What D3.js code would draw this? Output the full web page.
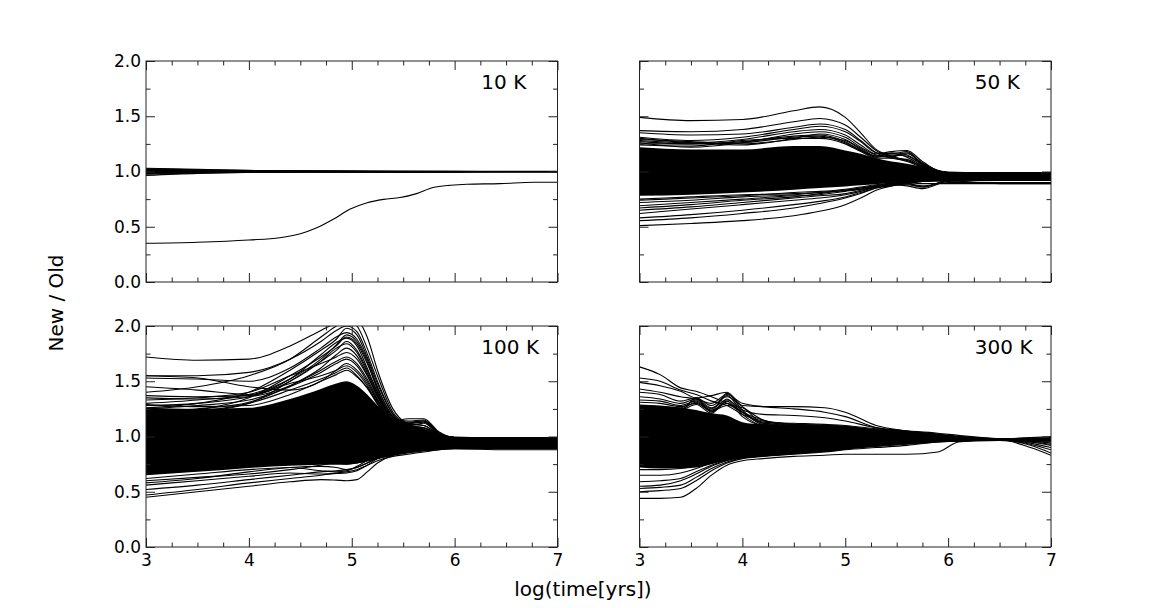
<!DOCTYPE html>
<html>
<head>
<meta charset="utf-8">
<script src="https://cdn.jsdelivr.net/npm/d3@7"></script>
<style>
  body { margin: 0; background: #fff; }
  svg { display: block; }
  text { font-family: "DejaVu Sans", sans-serif; }
</style>
</head>
<body>
<div id="chart"></div>
<script>
// ---- data ----
var xTicks = [3, 4, 5, 6, 7];
var yTicks = [0, 0.5, 1, 1.5, 2];
var panelLabels = ["10 K", "50 K", "100 K", "300 K"];

// 10 K
var x10 = [3, 3.5, 4, 4.5, 5, 5.5, 6, 6.5, 7];
var lines10 = [
  [1.030, 1.020, 1.010, 1.005, 1.003, 1.002, 1.001, 1.001, 1.001],
  [1.025, 1.016, 1.008, 1.004, 1.002, 1.001, 1.001, 1.000, 1.000],
  [1.020, 1.013, 1.007, 1.003, 1.002, 1.001, 1.000, 1.000, 1.000],
  [1.016, 1.010, 1.005, 1.003, 1.001, 1.000, 1.000, 1.000, 1.000],
  [1.012, 1.008, 1.004, 1.002, 1.001, 1.000, 1.000, 1.000, 1.000],
  [1.008, 1.005, 1.003, 1.001, 1.000, 1.000, 1.000, 1.000, 1.000],
  [1.004, 1.003, 1.002, 1.001, 1.000, 0.999, 1.000, 1.000, 1.000],
  [1.000, 1.000, 1.000, 1.000, 0.999, 0.998, 0.999, 1.000, 1.000],
  [0.996, 0.997, 0.998, 0.999, 0.998, 0.997, 0.998, 0.999, 0.999],
  [0.992, 0.994, 0.996, 0.998, 0.998, 0.996, 0.998, 0.999, 0.999],
  [0.988, 0.992, 0.995, 0.997, 0.997, 0.996, 0.997, 0.998, 0.998],
  [0.982, 0.989, 0.993, 0.996, 0.997, 0.996, 0.997, 0.998, 0.998],
  [0.975, 0.986, 0.992, 0.995, 0.996, 0.995, 0.997, 0.998, 0.998],
  [0.965, 0.983, 0.991, 0.995, 0.996, 0.995, 0.997, 0.998, 0.998]
];
var x10low = [3, 3.5, 4, 4.3, 4.5, 4.66, 4.82, 4.98, 5.15, 5.31, 5.47, 5.63, 5.79, 5.96, 6.12, 6.44, 6.77, 7];
var low10 = [0.350, 0.360, 0.380, 0.400, 0.436, 0.490, 0.567, 0.658, 0.718, 0.748, 0.764, 0.800, 0.855, 0.876, 0.885, 0.890, 0.903, 0.903];

// 50 K
var x50 = [3, 3.5, 4, 4.5, 4.75, 5, 5.15, 5.3, 5.45, 5.6, 5.75, 6, 6.5, 7];
var core50Lo = [0.78, 0.79, 0.81, 0.835, 0.85, 0.865, 0.875, 0.885, 0.895, 0.905, 0.915, 0.925, 0.93, 0.93];
var core50Hi = [1.22, 1.20, 1.20, 1.23, 1.23, 1.19, 1.16, 1.12, 1.09, 1.07, 1.04, 1.00, 0.99, 0.99];
var lines50 = [
  [1.49, 1.46, 1.47, 1.55, 1.585, 1.49, 1.35, 1.20, 1.14, 1.10, 1.05, 0.99, 0.98, 0.98],
  [1.37, 1.36, 1.38, 1.45, 1.48, 1.42, 1.31, 1.19, 1.13, 1.09, 1.04, 0.99, 0.98, 0.98],
  [1.35, 1.33, 1.34, 1.40, 1.43, 1.38, 1.28, 1.17, 1.12, 1.10, 1.04, 0.98, 0.975, 0.975],
  [1.31, 1.28, 1.31, 1.38, 1.41, 1.36, 1.27, 1.17, 1.16, 1.18, 1.07, 0.98, 0.97, 0.97],
  [1.28, 1.26, 1.29, 1.36, 1.38, 1.33, 1.24, 1.16, 1.18, 1.19, 1.09, 0.97, 0.97, 0.97],
  [1.26, 1.22, 1.26, 1.34, 1.36, 1.31, 1.22, 1.15, 1.13, 1.17, 1.06, 0.98, 0.98, 0.98],
  [1.30, 1.26, 1.24, 1.30, 1.34, 1.29, 1.21, 1.14, 1.16, 1.13, 1.05, 0.99, 0.985, 0.985],
  [1.25, 1.25, 1.27, 1.32, 1.33, 1.27, 1.19, 1.13, 1.15, 1.14, 1.06, 0.985, 0.98, 0.98],
  [1.24, 1.23, 1.28, 1.30, 1.30, 1.25, 1.18, 1.12, 1.12, 1.11, 1.04, 0.99, 0.99, 0.99],
  [1.27, 1.25, 1.26, 1.31, 1.32, 1.26, 1.19, 1.14, 1.17, 1.15, 1.07, 0.99, 0.985, 0.985],
  [1.29, 1.27, 1.25, 1.29, 1.31, 1.28, 1.20, 1.13, 1.14, 1.16, 1.08, 0.98, 0.98, 0.98],
  [0.51, 0.53, 0.555, 0.60, 0.64, 0.70, 0.76, 0.83, 0.87, 0.89, 0.91, 0.93, 0.94, 0.94],
  [0.555, 0.58, 0.62, 0.67, 0.71, 0.76, 0.80, 0.85, 0.88, 0.90, 0.91, 0.93, 0.935, 0.935],
  [0.58, 0.61, 0.65, 0.70, 0.73, 0.77, 0.81, 0.85, 0.87, 0.88, 0.86, 0.92, 0.93, 0.93],
  [0.62, 0.66, 0.70, 0.74, 0.76, 0.79, 0.82, 0.86, 0.88, 0.87, 0.845, 0.91, 0.92, 0.92],
  [0.65, 0.68, 0.72, 0.76, 0.78, 0.80, 0.83, 0.86, 0.88, 0.89, 0.87, 0.90, 0.90, 0.90],
  [0.67, 0.70, 0.74, 0.77, 0.80, 0.83, 0.85, 0.87, 0.885, 0.90, 0.915, 0.925, 0.93, 0.93],
  [0.69, 0.72, 0.75, 0.78, 0.79, 0.82, 0.84, 0.87, 0.89, 0.90, 0.89, 0.89, 0.89, 0.89],
  [0.72, 0.74, 0.77, 0.79, 0.81, 0.83, 0.85, 0.87, 0.89, 0.90, 0.91, 0.915, 0.89, 0.89],
  [0.74, 0.76, 0.78, 0.81, 0.82, 0.84, 0.86, 0.88, 0.895, 0.905, 0.915, 0.92, 0.925, 0.925],
  [0.75, 0.77, 0.79, 0.80, 0.81, 0.83, 0.84, 0.86, 0.88, 0.89, 0.86, 0.92, 0.93, 0.93]
];

// 100 K
var x100 = [3, 3.5, 4, 4.4, 4.7, 4.85, 4.95, 5.05, 5.15, 5.25, 5.4, 5.55, 5.7, 5.85, 6, 6.5, 7];
var core100Lo = [0.65, 0.68, 0.715, 0.735, 0.745, 0.745, 0.745, 0.755, 0.775, 0.795, 0.825, 0.855, 0.875, 0.89, 0.90, 0.90, 0.90];
var core100Hi = [1.26, 1.25, 1.26, 1.34, 1.43, 1.48, 1.50, 1.46, 1.38, 1.28, 1.16, 1.09, 1.05, 1.02, 1.00, 0.99, 0.99];
var lines100 = [
  [1.72, 1.69, 1.70, 1.82, 1.96, 2.03, 2.08, 2.06, 1.90, 1.60, 1.25, 1.10, 1.05, 1.01, 0.99, 0.98, 0.98],
  [1.55, 1.55, 1.58, 1.70, 1.86, 1.96, 2.00, 1.95, 1.75, 1.50, 1.20, 1.10, 1.05, 1.01, 0.99, 0.98, 0.98],
  [1.53, 1.52, 1.50, 1.62, 1.80, 1.90, 1.94, 1.88, 1.70, 1.45, 1.18, 1.12, 1.13, 1.02, 0.99, 0.99, 0.99],
  [1.45, 1.42, 1.38, 1.52, 1.74, 1.85, 1.89, 1.82, 1.62, 1.40, 1.16, 1.14, 1.15, 1.03, 0.99, 0.985, 0.985],
  [1.37, 1.36, 1.37, 1.50, 1.68, 1.80, 1.84, 1.76, 1.58, 1.38, 1.15, 1.12, 1.10, 1.02, 0.98, 0.98, 0.98],
  [1.33, 1.35, 1.40, 1.55, 1.66, 1.72, 1.76, 1.70, 1.55, 1.36, 1.14, 1.16, 1.16, 1.04, 0.99, 0.98, 0.98],
  [1.25, 1.28, 1.33, 1.45, 1.58, 1.66, 1.70, 1.64, 1.50, 1.33, 1.13, 1.10, 1.12, 1.02, 0.98, 0.975, 0.975],
  [1.28, 1.30, 1.36, 1.48, 1.55, 1.60, 1.64, 1.58, 1.46, 1.30, 1.12, 1.08, 1.07, 1.01, 0.99, 0.99, 0.99],
  [1.24, 1.24, 1.30, 1.42, 1.52, 1.58, 1.62, 1.55, 1.44, 1.29, 1.12, 1.09, 1.06, 1.00, 0.98, 0.98, 0.98],
  [1.55, 1.53, 1.45, 1.42, 1.50, 1.60, 1.66, 1.60, 1.48, 1.32, 1.13, 1.10, 1.08, 1.02, 0.99, 0.98, 0.98],
  [1.26, 1.30, 1.40, 1.60, 1.78, 1.88, 1.98, 1.92, 1.72, 1.48, 1.20, 1.10, 1.05, 1.01, 0.99, 0.98, 0.98],
  [1.20, 1.24, 1.35, 1.55, 1.72, 1.82, 1.90, 1.84, 1.66, 1.44, 1.18, 1.09, 1.04, 1.00, 0.98, 0.98, 0.98],
  [1.22, 1.25, 1.31, 1.46, 1.62, 1.74, 1.80, 1.73, 1.56, 1.37, 1.15, 1.11, 1.10, 1.02, 0.98, 0.98, 0.98],
  [1.18, 1.22, 1.30, 1.50, 1.68, 1.78, 1.86, 1.78, 1.60, 1.40, 1.17, 1.10, 1.06, 1.01, 0.98, 0.98, 0.98],
  [1.30, 1.33, 1.38, 1.52, 1.70, 1.83, 1.92, 1.86, 1.68, 1.42, 1.17, 1.13, 1.14, 1.03, 0.99, 0.99, 0.99],
  [1.35, 1.34, 1.36, 1.46, 1.60, 1.68, 1.72, 1.66, 1.52, 1.34, 1.14, 1.12, 1.14, 1.03, 0.99, 0.985, 0.985],
  [1.40, 1.45, 1.55, 1.70, 1.90, 2.00, 2.05, 2.00, 1.80, 1.55, 1.22, 1.11, 1.06, 1.01, 0.99, 0.98, 0.98],
  [1.29, 1.27, 1.28, 1.38, 1.50, 1.56, 1.60, 1.54, 1.44, 1.31, 1.13, 1.09, 1.08, 1.01, 0.98, 0.98, 0.98],
  [0.45, 0.50, 0.55, 0.59, 0.61, 0.605, 0.60, 0.61, 0.68, 0.76, 0.83, 0.86, 0.88, 0.89, 0.90, 0.90, 0.90],
  [0.47, 0.52, 0.58, 0.62, 0.65, 0.67, 0.68, 0.70, 0.74, 0.78, 0.82, 0.84, 0.86, 0.88, 0.89, 0.89, 0.89],
  [0.52, 0.56, 0.61, 0.65, 0.68, 0.69, 0.70, 0.72, 0.76, 0.80, 0.83, 0.85, 0.87, 0.88, 0.89, 0.88, 0.88],
  [0.56, 0.60, 0.64, 0.67, 0.66, 0.665, 0.67, 0.69, 0.74, 0.80, 0.84, 0.86, 0.875, 0.89, 0.90, 0.90, 0.90],
  [0.58, 0.62, 0.68, 0.72, 0.73, 0.72, 0.70, 0.72, 0.76, 0.82, 0.85, 0.87, 0.88, 0.89, 0.90, 0.91, 0.91],
  [0.60, 0.63, 0.66, 0.70, 0.74, 0.76, 0.75, 0.76, 0.78, 0.81, 0.84, 0.86, 0.88, 0.89, 0.90, 0.90, 0.90],
  [0.62, 0.66, 0.70, 0.72, 0.69, 0.68, 0.69, 0.73, 0.78, 0.82, 0.85, 0.87, 0.88, 0.89, 0.90, 0.90, 0.90]
];

// 300 K
var x300 = [3, 3.2, 3.4, 3.55, 3.7, 3.85, 4, 4.2, 4.5, 4.8, 5, 5.3, 5.6, 5.9, 6.1, 6.5, 6.8, 7];
var core300Lo = [0.72, 0.71, 0.71, 0.72, 0.75, 0.78, 0.80, 0.82, 0.84, 0.86, 0.88, 0.91, 0.93, 0.95, 0.96, 0.965, 0.96, 0.955];
var core300Hi = [1.29, 1.28, 1.26, 1.24, 1.21, 1.19, 1.13, 1.11, 1.10, 1.09, 1.08, 1.05, 1.03, 1.00, 0.99, 0.985, 0.985, 0.985];
var lines300 = [
  [1.63, 1.56, 1.44, 1.41, 1.36, 1.30, 1.22, 1.15, 1.11, 1.10, 1.09, 1.06, 1.03, 1.00, 0.985, 0.975, 0.95, 0.92],
  [1.53, 1.50, 1.42, 1.38, 1.32, 1.28, 1.20, 1.14, 1.11, 1.10, 1.09, 1.05, 1.02, 0.99, 0.98, 0.97, 0.93, 0.88],
  [1.49, 1.46, 1.41, 1.35, 1.37, 1.40, 1.28, 1.27, 1.27, 1.26, 1.22, 1.10, 1.05, 1.01, 0.99, 0.975, 0.96, 0.94],
  [1.43, 1.40, 1.36, 1.34, 1.30, 1.38, 1.30, 1.27, 1.25, 1.22, 1.18, 1.08, 1.04, 1.00, 0.99, 0.98, 0.97, 0.96],
  [1.40, 1.38, 1.32, 1.35, 1.28, 1.36, 1.27, 1.15, 1.10, 1.09, 1.08, 1.06, 1.04, 1.02, 1.00, 0.98, 0.99, 1.00],
  [1.36, 1.34, 1.30, 1.34, 1.26, 1.33, 1.24, 1.20, 1.19, 1.17, 1.14, 1.08, 1.05, 1.02, 1.00, 0.98, 0.98, 0.98],
  [1.33, 1.32, 1.28, 1.32, 1.24, 1.30, 1.22, 1.13, 1.12, 1.11, 1.10, 1.07, 1.05, 1.03, 1.01, 0.98, 0.975, 0.97],
  [1.31, 1.30, 1.27, 1.30, 1.23, 1.28, 1.26, 1.12, 1.11, 1.10, 1.09, 1.06, 1.04, 1.02, 1.00, 0.98, 0.985, 0.99],
  [1.28, 1.27, 1.26, 1.33, 1.25, 1.37, 1.22, 1.12, 1.10, 1.09, 1.08, 1.05, 1.03, 1.01, 0.99, 0.98, 0.98, 0.98],
  [1.26, 1.25, 1.25, 1.31, 1.23, 1.39, 1.24, 1.11, 1.10, 1.09, 1.08, 1.05, 1.03, 1.01, 0.99, 0.98, 0.98, 0.98],
  [1.25, 1.24, 1.23, 1.35, 1.22, 1.34, 1.20, 1.10, 1.09, 1.08, 1.07, 1.05, 1.03, 1.00, 0.99, 0.98, 0.98, 0.98],
  [1.27, 1.26, 1.24, 1.29, 1.21, 1.32, 1.18, 1.10, 1.09, 1.08, 1.07, 1.04, 1.02, 1.00, 0.99, 0.98, 0.98, 0.98],
  [0.44, 0.44, 0.45, 0.53, 0.65, 0.74, 0.78, 0.80, 0.82, 0.83, 0.84, 0.84, 0.84, 0.86, 0.95, 0.97, 0.97, 0.97],
  [0.50, 0.51, 0.53, 0.60, 0.69, 0.76, 0.80, 0.82, 0.84, 0.86, 0.88, 0.90, 0.92, 0.95, 0.96, 0.965, 0.96, 0.96],
  [0.53, 0.54, 0.56, 0.63, 0.71, 0.77, 0.81, 0.83, 0.85, 0.87, 0.89, 0.91, 0.93, 0.95, 0.96, 0.965, 0.955, 0.95],
  [0.55, 0.56, 0.60, 0.66, 0.73, 0.78, 0.82, 0.84, 0.86, 0.88, 0.90, 0.92, 0.94, 0.955, 0.96, 0.97, 0.94, 0.90],
  [0.59, 0.60, 0.62, 0.68, 0.74, 0.79, 0.83, 0.85, 0.87, 0.89, 0.905, 0.925, 0.94, 0.955, 0.96, 0.97, 0.92, 0.85],
  [0.65, 0.65, 0.67, 0.71, 0.76, 0.80, 0.83, 0.86, 0.88, 0.90, 0.91, 0.93, 0.945, 0.96, 0.965, 0.97, 0.90, 0.83],
  [0.70, 0.70, 0.71, 0.74, 0.77, 0.80, 0.84, 0.87, 0.89, 0.905, 0.915, 0.935, 0.95, 0.96, 0.965, 0.97, 0.95, 0.93]
];

// ---- layout ----
var width = 1168;
var height = 608;
var pw = 411.5, ph = 221;
var colX = [146, 639.5];
var rowY = [61, 326];

var panels = [
  { label: panelLabels[0], col: 0, row: 0, xs: x10, lines: lines10, core: null,
    extra: [{ xs: x10low, ys: low10 }] },
  { label: panelLabels[1], col: 1, row: 0, xs: x50, lines: lines50, core: [core50Lo, core50Hi], extra: [] },
  { label: panelLabels[2], col: 0, row: 1, xs: x100, lines: lines100, core: [core100Lo, core100Hi], extra: [] },
  { label: panelLabels[3], col: 1, row: 1, xs: x300, lines: lines300, core: [core300Lo, core300Hi], extra: [] }
];

var svg = d3.select("#chart").append("svg")
  .attr("width", width)
  .attr("height", height);

var x = d3.scaleLinear().domain([3, 7]).range([0, pw]);
var y = d3.scaleLinear().domain([0, 2]).range([ph, 0]);

var xMinor = d3.range(3, 7.01, 0.25).filter(function(v) { return v % 1 !== 0; });
var yMinor = [0.25, 0.75, 1.25, 1.75];

var line = d3.line().curve(d3.curveMonotoneX);
var area = d3.area().curve(d3.curveMonotoneX);

panels.forEach(function(p, i) {
  let g = svg.append("g")
    .attr("transform", "translate(" + colX[p.col] + "," + rowY[p.row] + ")");

  g.append("clipPath").attr("id", "clip" + i)
    .append("rect").attr("width", pw).attr("height", ph);

  let plot = g.append("g").attr("clip-path", "url(#clip" + i + ")");

  //dense core of the bundle
  if (p.core) {
    let pts = p.xs.map(function(xv, k) { return [x(xv), y(p.core[0][k]), y(p.core[1][k])]; });
    plot.append("path")
      .attr("d", area.x(function(d) { return d[0]; }).y0(function(d) { return d[1]; }).y1(function(d) { return d[2]; })(pts))
      .attr("fill", "#000");
  }

  //individual curves
  let all = p.lines.map(function(ys) { return { xs: p.xs, ys: ys }; }).concat(p.extra);
  all.forEach(function(s) {
    let pts = s.xs.map(function(xv, k) { return [x(xv), y(s.ys[k])]; });
    plot.append("path")
      .attr("d", line(pts))
      .attr("fill", "none")
      .attr("stroke", "#000")
      .attr("stroke-width", 1.1);
  });

  //ticks, all inward
  function styleAxis(sel) {
    sel.select(".domain").remove();
    sel.selectAll("line").attr("stroke", "#222");
    sel.selectAll("text").attr("font-size", "17px").attr("fill", "#000")
      .style("font-family", "DejaVu Sans");
  }
  let showX = p.row === 1, showY = p.col === 0;
  let fmtY = d3.format(".1f");

  g.append("g").attr("transform", "translate(0," + ph + ")")
    .call(d3.axisBottom(x).tickValues(xTicks).tickSizeInner(-9).tickSizeOuter(0).tickPadding(7)
      .tickFormat(showX ? d3.format("d") : ""))
    .call(styleAxis);
  g.append("g").attr("transform", "translate(0," + ph + ")")
    .call(d3.axisBottom(x).tickValues(xMinor).tickSizeInner(-4.5).tickSizeOuter(0).tickFormat(""))
    .call(styleAxis);
  g.append("g")
    .call(d3.axisTop(x).tickValues(xTicks).tickSizeInner(-9).tickSizeOuter(0).tickFormat(""))
    .call(styleAxis);
  g.append("g")
    .call(d3.axisTop(x).tickValues(xMinor).tickSizeInner(-4.5).tickSizeOuter(0).tickFormat(""))
    .call(styleAxis);
  g.append("g")
    .call(d3.axisLeft(y).tickValues(yTicks).tickSizeInner(-9).tickSizeOuter(0).tickPadding(5)
      .tickFormat(showY ? fmtY : ""))
    .call(styleAxis);
  g.append("g")
    .call(d3.axisLeft(y).tickValues(yMinor).tickSizeInner(-4.5).tickSizeOuter(0).tickFormat(""))
    .call(styleAxis);
  g.append("g").attr("transform", "translate(" + pw + ",0)")
    .call(d3.axisRight(y).tickValues(yTicks).tickSizeInner(-9).tickSizeOuter(0).tickFormat(""))
    .call(styleAxis);
  g.append("g").attr("transform", "translate(" + pw + ",0)")
    .call(d3.axisRight(y).tickValues(yMinor).tickSizeInner(-4.5).tickSizeOuter(0).tickFormat(""))
    .call(styleAxis);

  //frame
  g.append("rect")
    .attr("width", pw).attr("height", ph)
    .attr("fill", "none").attr("stroke", "#222").attr("stroke-width", 1);

  //temperature label
  g.append("text")
    .attr("x", x(6.26)).attr("y", 28)
    .attr("font-size", "20px")
    .text(p.label);
});

//shared axis titles
svg.append("text")
  .attr("transform", "translate(56,303) rotate(-90)")
  .attr("text-anchor", "middle")
  .attr("dominant-baseline", "central")
  .attr("font-size", "20px")
  .text("New / Old");

svg.append("text")
  .attr("x", 583).attr("y", 596)
  .attr("text-anchor", "middle")
  .attr("font-size", "20px")
  .text("log(time[yrs])");
</script>
</body>
</html>
